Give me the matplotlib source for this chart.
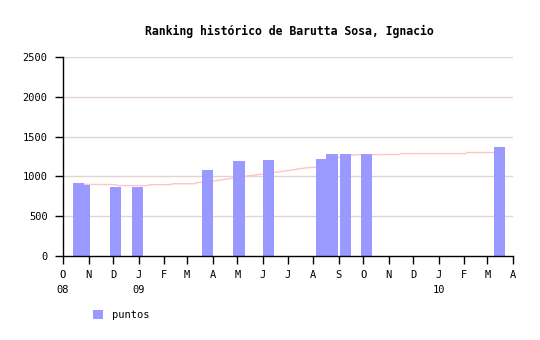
import matplotlib
matplotlib.use("Agg")
import matplotlib.pyplot as plt
import matplotlib.dates as mdates
from matplotlib.patches import Patch
import pandas as pd

# bars: puntos per tournament
bar_dates = ["2008-10-20", "2008-10-27", "2008-12-04", "2008-12-31", "2009-03-26",
             "2009-05-03", "2009-06-08", "2009-08-11", "2009-08-24", "2009-09-09",
             "2009-10-05", "2010-03-16"]
bar_values = [920, 895, 870, 870, 1085, 1195, 1205, 1220, 1280, 1280, 1280, 1370]

# pink trend line
line_dates = ["2008-10-26", "2008-12-04", "2008-12-07", "2009-01-13", "2009-01-14",
              "2009-02-10", "2009-02-11", "2009-03-11", "2009-03-12", "2009-04-01",
              "2009-05-10", "2009-06-21", "2009-07-24", "2009-08-03", "2009-08-31",
              "2009-09-22", "2009-11-14", "2009-11-15", "2010-02-03", "2010-02-04",
              "2010-03-09"]
line_values = [900, 897, 885, 885, 896, 897, 908, 908, 920, 940,
               1000, 1058, 1108, 1115, 1237, 1272, 1275, 1287, 1287, 1300, 1300]

y_ticks = [0, 500, 1000, 1500, 2000, 2500]
month_ticks = pd.date_range("2008-10-01", "2010-04-01", freq="MS")

TITLE = "Ranking histórico de Barutta Sosa, Ignacio"
MONO = "DejaVu Sans Mono"

fig = plt.figure(figsize=(5.4, 3.4), dpi=100)
ax = fig.add_axes([63 / 540, 1 - 256 / 340, 450 / 540, 199 / 340])

for y in y_ticks[1:]:
    ax.axhline(y, color="#e3d4cf", lw=1, zorder=0)

ax.plot(pd.to_datetime(line_dates), line_values, color="#ffc4c4", lw=1, zorder=1)
ax.bar(pd.to_datetime(bar_dates), bar_values, width=13.5, color="#9999ff",
       align="center", zorder=2)

ax.set_xlim(month_ticks[0], month_ticks[-1])
ax.set_ylim(0, 2500)

labels = []
for d in month_ticks:
    lab = d.strftime("%b")[0]
    if d == month_ticks[0] or d.month == 1:
        lab += "\n" + d.strftime("%y")
    labels.append(lab)
ax.set_xticks(mdates.date2num(month_ticks))
ax.set_xticklabels(labels, fontfamily=MONO, fontsize=7.5, linespacing=1.7)
ax.set_yticks(y_ticks)
ax.set_yticklabels([str(v) for v in y_ticks], fontfamily=MONO, fontsize=7.5)

for s in ["top", "right"]:
    ax.spines[s].set_visible(False)
for s in ["left", "bottom"]:
    ax.spines[s].set_linewidth(1)
ax.tick_params(axis="x", direction="out", length=6, width=1, pad=4)
ax.tick_params(axis="y", direction="out", length=6, width=1, pad=5)

fig.text(289 / 540, 1 - 31 / 340, TITLE, ha="center", va="center",
         fontfamily=MONO, fontweight="bold", fontsize=8.3)

fig.legend(handles=[Patch(facecolor="#9999ff")], labels=["puntos"],
           loc="upper left", bbox_to_anchor=(93 / 540, 1 - 310 / 340),
           frameon=False, borderpad=0, borderaxespad=0, handlelength=1.0,
           handleheight=1.0, handletextpad=0.8,
           prop={"family": MONO, "size": 7.5})

fig.savefig("out.png", dpi=100)
